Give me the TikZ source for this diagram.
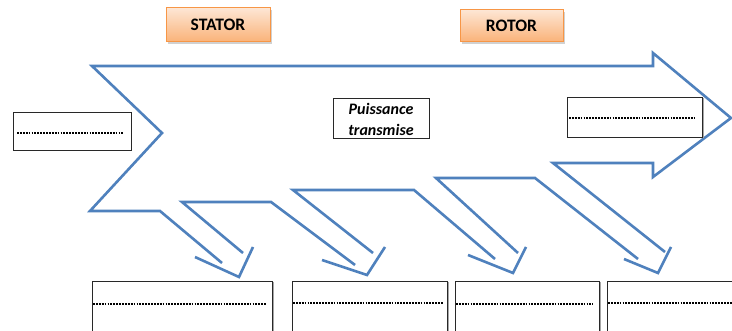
\documentclass[tikz,border=0pt]{standalone}
\usepackage{fontspec}
\setmainfont{Carlito}
\definecolor{arrowblue}{RGB}{79,129,189}
\definecolor{orangeborder}{RGB}{247,150,70}
\definecolor{orangetop}{RGB}{253,230,212}
\definecolor{orangebottom}{RGB}{250,178,120}
\definecolor{boxline}{RGB}{40,40,40}
\tikzset{
  outline/.style={draw=arrowblue, line width=2.6pt, line join=miter, line cap=butt},
  labelbox/.style={draw=orangeborder, line width=1pt, top color=orangetop, bottom color=orangebottom,
     minimum width=104pt, minimum height=34pt, inner sep=0pt, font=\fontsize{17.5}{19}\selectfont\bfseries},
  blankbox/.style={draw=boxline, line width=1pt, fill=white, anchor=north west, inner sep=0pt},
  boxshadow/.style={draw=black!35, line width=1.2pt},
  dotline/.style={draw=black, line width=2pt, dash pattern=on 1.8pt off 1.1pt},
  textbox/.style={draw=boxline, line width=1pt, fill=white, minimum width=96pt, minimum height=40pt,
     inner sep=0pt, align=center, font=\fontsize{16}{21}\selectfont\bfseries\itshape}
}
\begin{document}
\begin{tikzpicture}[x=1pt,y=-1pt]
\useasboundingbox (0,0) rectangle (732,331);
\clip (0,0) rectangle (732,331);
\fill[white] (0,0) rectangle (732,331);

% orange labels with soft shadow
\fill[black!18] (168,10) rectangle (272,44);
\fill[black!18] (462,12) rectangle (565,44);
\node[labelbox] (stator) at (218,25) {STATOR};
\node[labelbox, minimum width=103pt, minimum height=32pt] (rotor) at (511.5,26) {ROTOR};

% big outlined arrow with four sub-arrows (open strokes, as in the reference)
\draw[outline] (222,263) -- (160,211) -- (90,211) -- (162,133) -- (92,66) -- (653,66) -- (653,53)
  -- (731,118) -- (653,177) -- (653,163) -- (553,163) -- (665,252);
\draw[outline] (671,247) -- (658,273) -- (624,259);
\draw[outline] (638,259) -- (535,178) -- (436,178) -- (518,253);
\draw[outline] (526,247) -- (513,273) -- (468,255);
\draw[outline] (495,259) -- (414,190) -- (293,190) -- (373,253);
\draw[outline] (385,247) -- (367,275) -- (322,260);
\draw[outline] (355,265) -- (271,202) -- (182,202) -- (243,253);
\draw[outline] (253,247) -- (239,277) -- (195,257);

% left box
\node[blankbox, minimum width=118pt, minimum height=38pt] (leftbox) at (13,112) {};
\draw[dotline] (17,133) -- (124,133);

% right box
\draw[boxshadow] (703,98) -- (703,138);
\node[blankbox, minimum width=135pt, minimum height=40pt] (rightbox) at (567,97) {};
\draw[dotline] (569,118) -- (694,118);

% centre text box
\node[textbox] (puissance) at (381,119) {Puissance\\transmise};

% bottom boxes
\draw[boxshadow] (273,282) -- (273,340);
\node[blankbox, minimum width=180pt, minimum height=60pt] (box1) at (92,281) {};
\draw[dotline] (93,304) -- (266,304);

\draw[boxshadow] (448,282) -- (448,340);
\node[blankbox, minimum width=155pt, minimum height=60pt] (box2) at (292,281) {};
\draw[dotline] (293,303) -- (443,303);

\draw[boxshadow] (600,282) -- (600,340);
\node[blankbox, minimum width=144pt, minimum height=60pt] (box3) at (455,281) {};
\draw[dotline] (456,304) -- (593,304);

\node[blankbox, minimum width=140pt, minimum height=60pt] (box4) at (607,281) {};
\draw[dotline] (608,303) -- (732,303);
\end{tikzpicture}
\end{document}
